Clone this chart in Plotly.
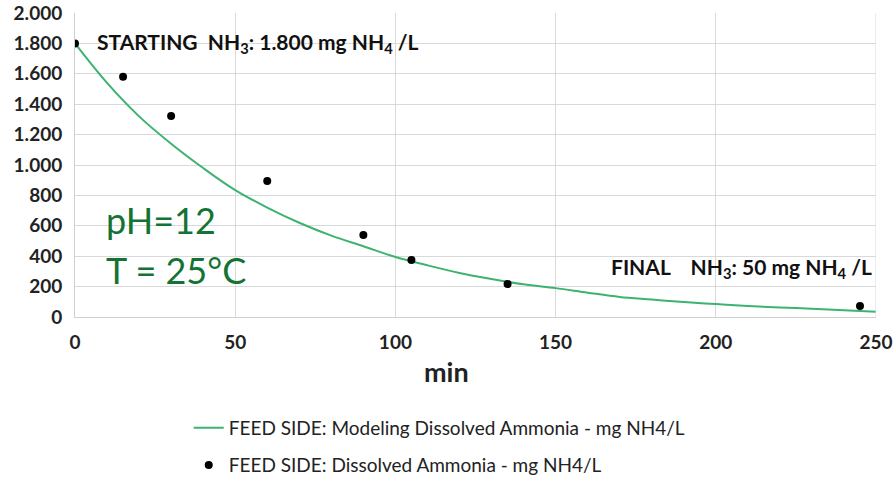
import plotly.graph_objects as go

# Modelled curve
model_t = [0, 10, 20, 30, 40, 50, 60, 70, 80, 90, 100, 110, 120, 130, 140, 150,
           160, 170, 180, 190, 200, 210, 220, 230, 240, 250]
model_v = [1800, 1540, 1320, 1140, 980, 835, 720, 620, 535, 465, 395, 340, 290,
           250, 215, 190, 160, 132, 115, 98, 85, 72, 62, 55, 45, 35]

# Measured points
meas_t = [0, 15, 30, 60, 90, 105, 135, 245]
meas_v = [1800, 1580, 1322, 895, 539, 375, 217, 72]

y_ticks = [0, 200, 400, 600, 800, 1000, 1200, 1400, 1600, 1800, 2000]
y_labels = ["0", "200", "400", "600", "800", "1.000", "1.200", "1.400", "1.600", "1.800", "2.000"]
x_ticks = [0, 50, 100, 150, 200, 250]

FONT = "Lato"
GREEN = "#3cb371"

fig = go.Figure()
fig.add_trace(go.Scatter(
    x=model_t, y=model_v, mode="lines", line=dict(color=GREEN, width=2, shape="spline"),
    name="FEED SIDE: Modeling Dissolved Ammonia - mg NH4/L", legend="legend"))
fig.add_trace(go.Scatter(
    x=meas_t, y=meas_v, mode="markers", marker=dict(color="black", size=8),
    name="FEED SIDE: Dissolved Ammonia - mg NH4/L", legend="legend2"))

fig.update_layout(
    width=894, height=484,
    margin=dict(l=75, r=18, t=13, b=167, autoexpand=False),
    paper_bgcolor="white", plot_bgcolor="white",
    font=dict(family=FONT, color="#222"),
    showlegend=True,
    legend=dict(x=0.142, y=-0.365, xanchor="left", yanchor="middle",
                font=dict(size=19, family=FONT, color="#222"), bgcolor="rgba(0,0,0,0)"),
    legend2=dict(x=0.142, y=-0.487, xanchor="left", yanchor="middle",
                 font=dict(size=19, family=FONT, color="#222"), bgcolor="rgba(0,0,0,0)"),
    xaxis=dict(range=[0, 250], tickvals=x_ticks, showgrid=True, gridcolor="#d9d9d9",
               zeroline=False, showline=True, linecolor="#d0d0d0", mirror=False,
               automargin=False, ticklabeloverflow="allow",
               tickfont=dict(size=19, family=FONT, color="#222", weight="bold"),
               ticks="", ticklabelstandoff=8),
    yaxis=dict(range=[0, 2000], tickvals=y_ticks, ticktext=y_labels, showgrid=True,
               gridcolor="#d9d9d9", zeroline=False, showline=True, linecolor="#d0d0d0",
               automargin=False, ticklabeloverflow="allow",
               tickfont=dict(size=19, family=FONT, color="#222", weight="bold"),
               ticks="", ticklabelstandoff=8),
)

# right-edge grid line at x = 250
fig.add_shape(type="line", xref="x", yref="paper", x0=250, x1=250, y0=0, y1=1,
              line=dict(color="#d9d9d9", width=1))

# x-axis title (sits left of centre in the reference)
fig.add_annotation(x=0.464, y=-0.18, xref="paper", yref="paper", xanchor="center",
                   yanchor="middle", text="<b>min</b>", showarrow=False,
                   font=dict(size=27, family=FONT, color="#222"))

fig.add_annotation(x=0.025, y=1800, xref="paper", yref="y", xanchor="left", yanchor="middle",
                   text="<b>STARTING  NH<sub>3</sub>: 1.800 mg NH<sub>4</sub> /L</b>",
                   showarrow=False, font=dict(size=21, family=FONT, color="#111"))
fig.add_annotation(x=0.997, y=322, xref="paper", yref="y", xanchor="right", yanchor="middle",
                   text="<b>FINAL    NH<sub>3</sub>: 50 mg NH<sub>4</sub> /L</b>",
                   showarrow=False, font=dict(size=21, family=FONT, color="#111"))
fig.add_annotation(x=0.036, y=638, xref="paper", yref="y", xanchor="left", yanchor="middle",
                   text="pH=12", showarrow=False,
                   font=dict(size=36, family=FONT, color="#137333"))
fig.add_annotation(x=0.036, y=309, xref="paper", yref="y", xanchor="left", yanchor="middle",
                   text="T = 25°C", showarrow=False,
                   font=dict(size=36, family=FONT, color="#137333"))

fig.write_html("out.html", config={"displayModeBar": False},
               post_script="document.body.style.margin='0';")
